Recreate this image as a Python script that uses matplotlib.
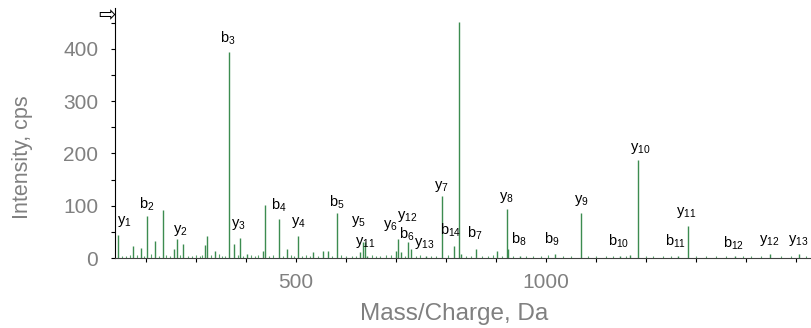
import matplotlib.pyplot as plt
from matplotlib.ticker import FixedLocator, MultipleLocator

plt.rcParams['font.family'] = ['Liberation Sans', 'DejaVu Sans']
plt.rcParams['mathtext.fontset'] = 'custom'
plt.rcParams['mathtext.rm'] = 'Liberation Sans'

# main peaks (m/z, intensity)
peak_mz = [145, 175, 191, 203, 219, 234, 257, 262, 275, 319, 322, 339,
           367, 377, 389, 402, 435, 439, 467, 483, 505, 535, 554, 564, 583,
           628, 635, 638, 643, 701, 705, 711, 724, 730, 761, 793, 817, 827,
           831, 860, 903, 922, 925, 948, 1019, 1071, 1148, 1168, 1185,
           1265, 1285, 1378, 1449, 1507]
peak_int = [44, 22, 19, 81, 33, 92, 17, 36, 27, 25, 43, 14,
            394, 26, 38, 8, 13, 101, 74, 18, 42, 12, 13, 13, 87,
            11, 31, 31, 4, 13, 36, 11, 31, 18, 3, 119, 23, 452,
            8, 18, 13, 93, 18, 4, 8, 87, 4, 6, 188,
            4, 61, 3, 8, 8]

# baseline noise
noise_mz = [152, 160, 168, 182, 197, 210, 226, 241, 248, 268, 284, 292,
            300, 308, 313, 330, 346, 352, 358, 384, 395, 410, 418, 425,
            447, 455, 474, 490, 497, 512, 520, 528, 545, 572, 590, 600,
            612, 620, 652, 660, 668, 680, 690, 718, 740, 748, 770, 780,
            805, 840, 850, 872, 885, 895, 912, 935, 960, 975, 990, 1005,
            1035, 1050, 1085, 1100, 1120, 1135, 1160, 1200, 1215, 1235,
            1250, 1300, 1320, 1340, 1360, 1395, 1410, 1430, 1470, 1490,
            1520]
noise_int = [4, 3, 6, 5, 3, 7, 4, 5, 3, 6, 4, 3,
             5, 4, 6, 5, 7, 4, 3, 5, 4, 6, 3, 5,
             4, 6, 3, 5, 4, 3, 5, 4, 3, 4, 5, 3,
             4, 3, 5, 3, 4, 6, 5, 4, 3, 5, 4, 3,
             5, 4, 3, 4, 3, 5, 3, 4, 3, 4, 3, 5,
             3, 4, 3, 4, 3, 4, 3, 4, 3, 4,
             3, 4, 3, 3, 4, 3, 4, 3, 3, 4,
             3]

# fragment labels: text, m/z position, height of label bottom
lab_text = ['y1', 'b2', 'y2', 'b3', 'y3', 'b4', 'y4', 'b5', 'y5', 'y11',
            'y6', 'y12', 'b6', 'y13', 'y7', 'b14', 'b7', 'y8', 'b8', 'b9',
            'y9', 'b10', 'y10', 'b11', 'y11', 'b12', 'y12', 'y13']
lab_mz = [156, 201, 269, 363, 385, 465, 504, 581, 625, 638,
          689, 723, 721, 757, 791, 810, 858, 921, 945, 1012,
          1071, 1146, 1188, 1259, 1281, 1375, 1447, 1505]
lab_y = [55, 86, 38, 403, 50, 84, 54, 90, 55, 15,
         48, 65, 29, 14, 122, 36, 31, 101, 20, 20,
         95, 15, 195, 15, 73, 12, 19, 19]

fig = plt.figure(figsize=(8.12, 3.28), dpi=100)
ax = fig.add_axes([0.1416, 0.2134, 0.8584, 0.7622])

green = '#3c8c50'
ax.vlines(noise_mz, 0, noise_int, color='#5aa56c', lw=0.8)
ax.vlines(peak_mz, 0, peak_int, color=green, lw=1.0)

for t, x, y in zip(lab_text, lab_mz, lab_y):
    ax.text(x, y, t[0] + r'$_{\mathrm{' + t[1:] + '}}$', ha='center',
            va='bottom', fontsize=10.5, color='black')

ax.set_xlim(138, 1532)
ax.set_ylim(0, 478)
ax.xaxis.set_major_locator(FixedLocator([500, 1000]))
ax.xaxis.set_minor_locator(MultipleLocator(100))
ax.yaxis.set_major_locator(MultipleLocator(100))
ax.yaxis.set_minor_locator(MultipleLocator(50))

for s in ['top', 'right']:
    ax.spines[s].set_visible(False)
ax.spines['left'].set_color('black')
ax.spines['bottom'].set_color('#404040')
ax.tick_params(which='both', length=3, width=0.8, color='black',
               labelsize=15, labelcolor='#808080')
ax.tick_params(axis='y', pad=9)
ax.tick_params(axis='x', pad=8)

ax.set_xlabel('Mass/Charge, Da', fontsize=17.5, color='#808080')
ax.set_ylabel('Intensity, cps', fontsize=15.5, color='#808080')
ax.xaxis.set_label_coords(0.486, -0.18)
ax.yaxis.set_label_coords(-0.118, 0.404)

fig.text(0.132, 0.955, '\u21e8', fontsize=15, ha='center', va='center',
         family='DejaVu Sans', color='black')

fig.savefig('out.png', dpi=100)
